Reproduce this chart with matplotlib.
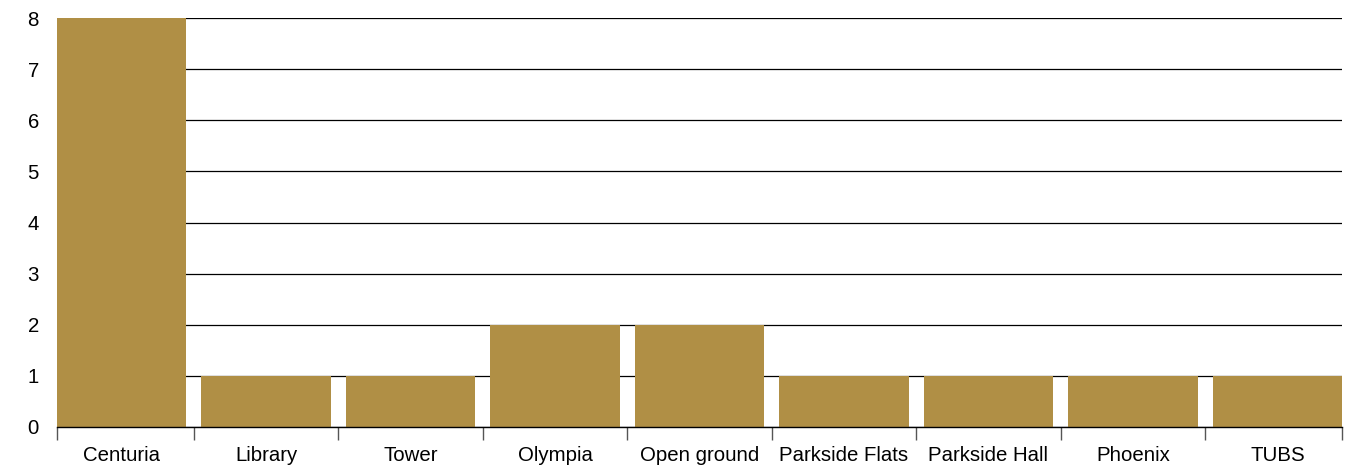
import numpy as np
import matplotlib.pyplot as plt

plt.rcParams['font.family'] = ['Liberation Sans', 'DejaVu Sans']

buildings = ["Centuria", "Library", "Tower", "Olympia", "Open ground",
             "Parkside Flats", "Parkside Hall", "Phoenix", "TUBS"]
counts = [8, 1, 1, 2, 2, 1, 1, 1, 1]

bar_color = "#B08F45"
width = 0.893

fig = plt.figure(figsize=(13.7, 4.71), dpi=100)
ax = fig.add_axes([57 / 1370, 44 / 471, 1285 / 1370, 409 / 471])

x = np.arange(len(buildings))
ax.bar(x, counts, width=width, color=bar_color, zorder=2)

ax.set_xlim(-width / 2, len(buildings) - 1 + width / 2)
ax.set_ylim(0, 8)
ax.set_yticks(range(0, 9))
ax.yaxis.grid(True, color="black", linewidth=0.9, zorder=1)
ax.set_axisbelow(True)

# category labels centred on bars, tick marks on the boundaries between them
ax.set_xticks(x)
ax.set_xticklabels(buildings)
ax.tick_params(axis="x", which="major", length=0, pad=14, labelsize=14.7)
bounds = np.concatenate(([-width / 2], x[:-1] + 0.5, [x[-1] + width / 2]))
ax.set_xticks(bounds, minor=True)
ax.tick_params(axis="x", which="minor", length=9, width=1, color="#555555")

ax.tick_params(axis="y", length=0, pad=13, labelsize=14.7)

for side in ("left", "right", "top"):
    ax.spines[side].set_visible(False)
ax.spines["bottom"].set_color("black")
ax.spines["bottom"].set_linewidth(1.0)
ax.spines["bottom"].set_zorder(3)

fig.savefig("out.png", dpi=100)
